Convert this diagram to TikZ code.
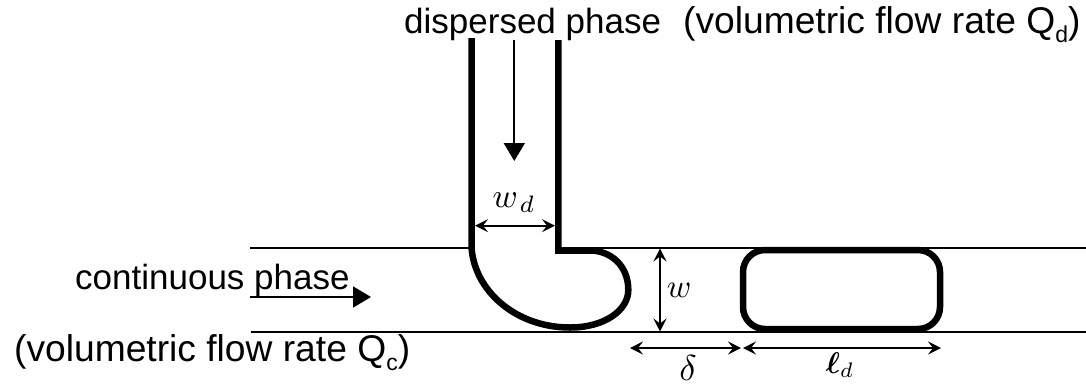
\documentclass[tikz,border=0pt]{standalone}
\usepackage{amsmath}
\usepackage{amssymb}
\usepackage{fontspec}
\setmainfont{Liberation Sans}
\usetikzlibrary{arrows.meta}
\newcommand{\subtxt}[1]{\raisebox{-9pt}{\fontsize{23}{26}\selectfont #1}}
\newcommand{\bigsym}[2][3.3]{\scalebox{#1}{$#2$}}
\tikzset{
  wall/.style={line width=6.5pt,line join=miter},
  channel/.style={line width=2.2pt},
  flow/.style={line width=1.8pt,-{Triangle[length=18pt,width=21pt]}},
  dim/.style={line width=1.7pt,{Stealth[length=13pt,width=13pt,inset=5pt]}-{Stealth[length=13pt,width=13pt,inset=5pt]}},
  lbl/.style={inner sep=0pt,anchor=base west,font=\fontsize{35}{40}\selectfont},
  lblb/.style={inner sep=0pt,anchor=base west,font=\fontsize{37.2}{42}\selectfont},
  sym/.style={inner sep=0pt,anchor=base}
}
\begin{document}
\begin{tikzpicture}[x=1pt,y=-1pt]
\useasboundingbox (0,0) rectangle (1086,384);
% channel
\coordinate (tl) at (250,247.7);
\coordinate (tlend) at (470,247.7);
\coordinate (trstart) at (556,247.7);
\coordinate (tr) at (1086,247.7);
\coordinate (bl) at (251,332.3);
\coordinate (br) at (1086,332.3);
\draw[channel] (tl) -- (tlend);
\draw[channel] (trstart) -- (tr);
\draw[channel] (bl) -- (br);
% junction walls and emerging droplet
\draw[wall] (471.5,38) -- (471.5,247)
  .. controls (474,290) and (515,327.5) .. (570,327.5)
  .. controls (605,327.5) and (628.3,310) .. (628.3,290)
  .. controls (628.3,265) and (610,250.5) .. (590,250.5)
  -- (558.3,250.5) -- (558.3,40);
% plug
\draw[wall] (743,272) arc[start angle=180,end angle=270,radius=22] -- (918,250)
  arc[start angle=270,end angle=360,radius=22] -- (940,307)
  arc[start angle=0,end angle=90,radius=22] -- (765,329)
  arc[start angle=90,end angle=180,radius=22] -- cycle;
% flow arrows
\coordinate (da) at (514.3,40);
\coordinate (db) at (514.3,161);
\draw[flow] (da) -- (db);
\coordinate (ca) at (250,297);
\coordinate (cb) at (371,297);
\draw[flow] (ca) -- (cb);
% dimension arrows
\coordinate (wda) at (475,225.7);
\coordinate (wdb) at (555,225.7);
\draw[dim] (wda) -- (wdb);
\coordinate (wa) at (660,248.5);
\coordinate (wb) at (660,331.5);
\draw[dim] (wa) -- (wb);
\coordinate (dla) at (630,348);
\coordinate (dlb) at (741,348);
\draw[dim] (dla) -- (dlb);
\coordinate (lla) at (743,348);
\coordinate (llb) at (941,348);
\draw[dim] (lla) -- (llb);
% texts
\node[lbl] (t1) at (404,33) {dispersed phase};
\node[lblb] (t2) at (683,33) {(volumetric flow rate Q\subtxt{d})};
\node[lbl] (t3) at (75,289) {continuous phase};
\node[lblb] (t4) at (14,361.7) {(volumetric flow rate Q\subtxt{c})};
\node[sym] (s1) at (514,207) {\bigsym[3.4]{w\mkern1mu_d}};
\node[sym] (s2) at (679,297) {\bigsym{w}};
\node[sym] (s3) at (688,380) {\bigsym[3.6]{\delta}};
\node[sym] (s4) at (840,373) {\bigsym[3.0]{\boldsymbol{\ell}_d}};
\end{tikzpicture}
\end{document}
